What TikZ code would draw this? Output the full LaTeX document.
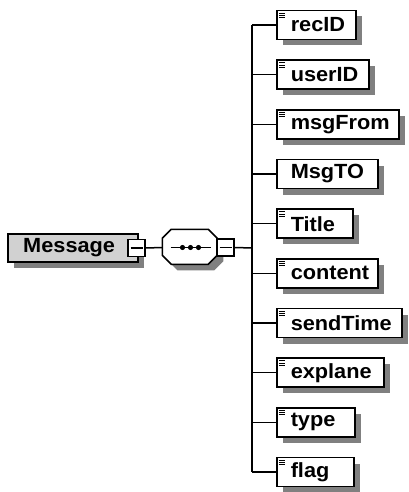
\documentclass[tikz,border=0pt]{standalone}
\usepackage{fontspec}
\setmainfont{Liberation Sans}
\newfontfamily\lblfam[FakeStretch=1.06]{Liberation Sans}
\usetikzlibrary{shadows,calc}
\newcommand\lblfont{\lblfam\fontsize{20.5}{24}\selectfont\bfseries}
\begin{document}
\begin{tikzpicture}[x=1pt,y=-1pt,line width=1.5pt,
  shade/.style={drop shadow={shadow xshift=6pt,shadow yshift=-6pt,fill=black!50,opacity=1}},
  elem/.style={draw,fill=white,shade,anchor=west,minimum height=29pt,inner sep=0pt},
  icon/.style={path picture={
    \foreach \k in {0,1,2}
      \draw[line width=0.9pt] ([xshift=2.5pt,yshift={-2.6pt-2.2pt*\k}]path picture bounding box.north west) -- ++(6pt,0);}},
  lbl/.style={anchor=west,inner sep=0pt,font=\lblfont},
  minus/.style={draw,fill=white,minimum size=17pt,inner sep=0pt,
    path picture={\draw[line width=1.5pt] ([xshift=2.5pt]path picture bounding box.west) -- ([xshift=-2.5pt]path picture bounding box.east);}},
  wire/.style={line width=1.5pt}]
\useasboundingbox (0,0) rectangle (409,492);

% root element with its expand box
\node[draw,fill=black!18,shade,anchor=west,minimum width=130pt,minimum height=28pt,inner sep=0pt] (msg) at (7,248) {};
\node[lbl] (msg-t) at (22.5,248) {Message};
\node[minus] (msgbox) at (136.5,248) {};

% sequence compositor: an octagon with a shadow
\node[minimum width=55pt,minimum height=35pt,inner sep=0pt] (seq) at (190.5,247.5) {};
\fill[black!50] ([xshift=15pt,yshift=-6pt]seq.north west) -- ++(37,0) -- ++(9,9) -- ++(0,17) -- ++(-9,9)
  -- ++(-37,0) -- ++(-9,-9) -- ++(0,-17) -- cycle;
\draw[fill=white] ([xshift=9pt]seq.north west) -- ++(37,0) -- ++(9,9) -- ++(0,17) -- ++(-9,9)
  -- ++(-37,0) -- ++(-9,-9) -- ++(0,-17) -- cycle;
\draw[line width=1.2pt] ($(seq.center)+(-20,0)$) coordinate (sl) -- ($(seq.center)+(20,0)$) coordinate (sr);
\foreach \dx in {-8,0,8}
  \fill ($(seq.center)+(\dx,0)$) circle (2.6pt);
\node[minus] (seqbox) at (225.5,247.5) {};

% child elements
\node[elem,icon,minimum width=79pt]  (recID)    at (276,25)    {};
\node[elem,icon,minimum width=92pt]  (userID)   at (276,74.7)  {};
\node[elem,icon,minimum width=122pt] (msgFrom)  at (276,124.3) {};
\node[elem,minimum width=101pt]      (MsgTO)    at (276,174)   {};
\node[elem,icon,minimum width=76pt]  (Title)    at (276,223.7) {};
\node[elem,icon,minimum width=101pt] (content)  at (276,273.3) {};
\node[elem,icon,minimum width=125pt] (sendTime) at (276,323)   {};
\node[elem,icon,minimum width=107pt] (explane)  at (276,372.7) {};
\node[elem,icon,minimum width=78pt]  (type)     at (276,422.3) {};
\node[elem,icon,minimum width=77pt]  (flag)     at (276,472)   {};

\foreach \n in {recID,userID,msgFrom,MsgTO,Title,content,sendTime,explane,type,flag}
  \node[lbl] (\n-t) at ([xshift=14pt]\n.west) {\n};

% connectors
\coordinate (bus) at (252,248);
\draw[wire] (msgbox.east) -- (seq.west);
\draw[wire] (seqbox.east) -- (bus);
\draw[wire] (bus |- recID.west) -- (bus |- flag.west);
\foreach \n in {recID,userID,msgFrom,MsgTO,Title,content,sendTime,explane,type,flag}
  \draw[wire] (bus |- \n.west) -- (\n.west);
\end{tikzpicture}
\end{document}
